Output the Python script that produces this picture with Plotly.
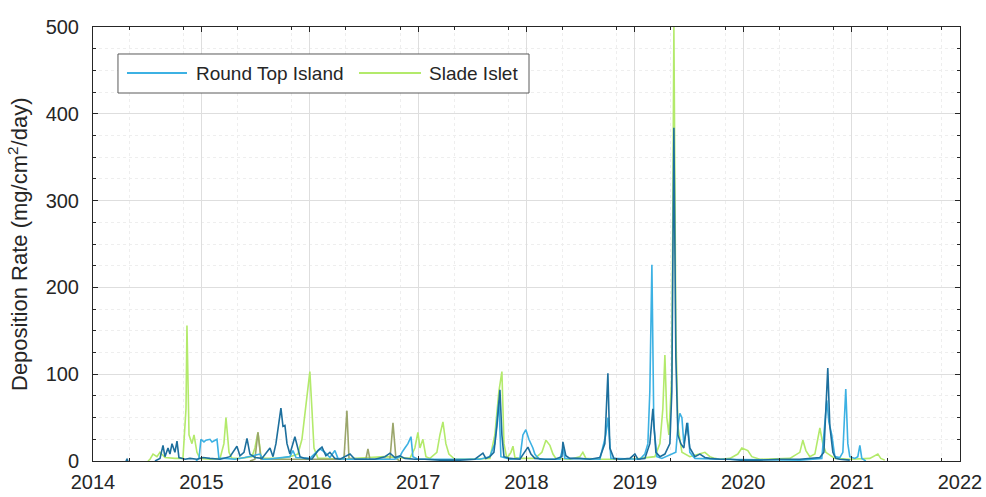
import plotly.graph_objects as go

# Sediment deposition rate (mg/cm2/day) against time in decimal years.
# Round Top Island: two overlapping trap records (darker / lighter blue)
rti_a_t = [2014.304, 2014.314, 2014.323, None, 2014.572, 2014.618, 2014.646, 2014.664, 2014.692, 2014.710,
           2014.729, 2014.756, 2014.775, 2014.793, 2014.849, 2014.895, 2014.959, 2015.015, 2015.079, 2015.172,
           2015.264, 2015.328, 2015.356, 2015.393, 2015.421, 2015.448, 2015.494, 2015.559, 2015.633, 2015.661,
           2015.688, 2015.716, 2015.734, 2015.753, 2015.771, 2015.790, 2015.817, 2015.863, 2015.891, 2015.910,
           2015.956, 2016.020, 2016.076, 2016.113, 2016.149, 2016.186, 2016.232, 2016.279, 2016.371, 2016.417,
           2016.509, 2016.601, 2016.694, 2016.740, 2016.786, 2016.832, 2016.878, 2016.970, 2017.063, 2017.201,
           2017.386, 2017.524, 2017.598, 2017.625, 2017.662, 2017.699, 2017.727, 2017.755, 2017.773, 2017.792,
           2017.847, 2017.939, 2018.013, 2018.041, 2018.077, 2018.170, 2018.262, 2018.327, 2018.336, 2018.363,
           2018.400, 2018.493, 2018.585, 2018.677, 2018.723, 2018.751, 2018.769, 2018.806, 2018.862, 2018.954,
           2019.000, 2019.028, 2019.092, 2019.138, 2019.166, 2019.194, 2019.231, 2019.277, 2019.323, 2019.341,
           2019.360, 2019.378, 2019.397, 2019.424, 2019.452, 2019.480, 2019.507, 2019.554, 2019.600, 2019.646,
           2019.692, 2019.784, 2019.877, 2019.969, 2020.153, 2020.338, 2020.522, 2020.614, 2020.707, 2020.744,
           2020.762, 2020.780, 2020.799, 2020.827, 2020.854, 2020.891, 2020.983]
rti_a_v = [0, 2, 0, None, 0, 3, 18, 5, 15, 8,
           20, 10, 23, 4, 2, 3, 2, 4, 3, 2,
           5, 17, 6, 10, 26, 8, 4, 3, 15, 5,
           20, 45, 61, 40, 41, 20, 8, 28, 12, 5,
           3, 2, 12, 16, 6, 10, 3, 2, 8, 2,
           2, 2, 5, 9, 4, 6, 3, 2, 2, 1,
           1, 2, 9, 3, 5, 10, 40, 82, 30, 5,
           3, 2, 16, 8, 3, 2, 2, 5, 22, 6,
           3, 3, 2, 4, 20, 101, 15, 3, 2, 3,
           8, 2, 3, 20, 60, 10, 5, 8, 20, 80,
           384, 120, 30, 20, 15, 44, 15, 5, 8, 4,
           3, 2, 2, 1, 1, 2, 2, 3, 4, 10,
           60, 107, 40, 10, 3, 2, 1]

rti_b_t = [2014.950, 2014.978, 2014.996, 2015.024, 2015.042, 2015.079, 2015.098, 2015.116, 2015.144, 2015.162,
           2015.218, 2015.310, 2015.402, 2015.541, 2015.568, 2015.614, 2015.817, 2015.845, 2015.873, 2016.001,
           2016.048, 2016.094, 2016.140, 2016.186, 2016.232, 2016.260, 2016.325, 2016.786, 2016.832, 2016.851,
           2016.878, 2016.906, 2016.934, 2016.952, 2016.998, 2017.570, 2017.662, 2017.708, 2017.745, 2017.764,
           2017.847, 2017.939, 2017.967, 2017.994, 2018.022, 2018.041, 2018.059, 2018.077, 2018.096, 2018.124,
           2018.308, 2018.336, 2018.354, 2018.677, 2018.732, 2018.751, 2018.779, 2019.046, 2019.092, 2019.120,
           2019.138, 2019.157, 2019.175, 2019.203, 2019.249, 2019.378, 2019.397, 2019.415, 2019.434, 2019.452,
           2019.470, 2019.489, 2019.507, 2019.554, 2019.784, 2020.522, 2020.725, 2020.753, 2020.771, 2020.790,
           2020.817, 2020.845, 2020.891, 2020.919, 2020.937, 2020.946, 2020.965, 2020.983, 2021.030, 2021.057,
           2021.076, 2021.094, 2021.131]
rti_b_v = [0, 3, 25, 22, 24, 25, 22, 23, 25, 3,
           3, 2, 4, 8, 2, 2, 5, 12, 4, 3,
           8, 14, 10, 4, 12, 3, 2, 2, 5, 10,
           15, 20, 28, 5, 2, 2, 5, 20, 70, 5,
           2, 3, 30, 36, 25, 20, 15, 8, 5, 2,
           2, 15, 3, 2, 30, 50, 3, 2, 8, 20,
           80, 226, 40, 5, 3, 10, 40, 55, 50, 20,
           30, 44, 10, 3, 2, 1, 3, 40, 70, 45,
           30, 5, 4, 10, 60, 83, 20, 5, 3, 5,
           18, 3, 0]

# Slade Islet: main record (lime) and a second short record (olive)
slade_a_t = [2014.507, 2014.526, 2014.554, 2014.590, 2014.618, 2014.664, 2014.756, 2014.830, 2014.858, 2014.867,
             2014.886, 2014.913, 2014.932, 2014.959, 2014.987, 2015.079, 2015.172, 2015.208, 2015.227, 2015.255,
             2015.282, 2015.356, 2015.467, 2015.494, 2015.522, 2015.550, 2015.587, 2015.725, 2015.817, 2015.891,
             2015.928, 2015.956, 2015.983, 2016.001, 2016.020, 2016.039, 2016.076, 2016.140, 2016.279, 2016.463,
             2016.555, 2016.694, 2016.924, 2016.970, 2016.998, 2017.017, 2017.044, 2017.072, 2017.109, 2017.173,
             2017.201, 2017.229, 2017.256, 2017.284, 2017.339, 2017.478, 2017.662, 2017.708, 2017.745, 2017.773,
             2017.792, 2017.819, 2017.856, 2017.875, 2017.893, 2017.939, 2018.077, 2018.142, 2018.179, 2018.216,
             2018.244, 2018.271, 2018.400, 2018.493, 2018.520, 2018.548, 2018.677, 2018.862, 2019.046, 2019.185,
             2019.231, 2019.258, 2019.277, 2019.295, 2019.314, 2019.341, 2019.360, 2019.378, 2019.397, 2019.434,
             2019.507, 2019.600, 2019.646, 2019.692, 2019.738, 2019.784, 2019.877, 2019.950, 2019.987, 2020.042,
             2020.079, 2020.153, 2020.430, 2020.522, 2020.550, 2020.578, 2020.614, 2020.661, 2020.707, 2020.734,
             2020.762, 2020.845, 2020.983, 2021.168, 2021.214, 2021.242, 2021.269, 2021.306]
slade_a_v = [0, 2, 8, 5, 10, 4, 3, 3, 60, 156,
             30, 20, 30, 10, 3, 2, 3, 20, 50, 10,
             3, 3, 5, 15, 33, 5, 3, 3, 5, 8,
             25, 55, 80, 103, 60, 15, 3, 3, 2, 3,
             4, 5, 3, 15, 33, 15, 25, 5, 3, 10,
             30, 45, 20, 8, 2, 2, 3, 30, 80, 103,
             20, 3, 10, 17, 4, 3, 3, 10, 24, 18,
             8, 3, 2, 5, 10, 3, 2, 2, 3, 5,
             20, 60, 122, 50, 30, 100, 500, 150, 40, 10,
             5, 8, 10, 5, 3, 2, 3, 8, 15, 12,
             5, 2, 3, 10, 24, 12, 5, 8, 38, 20,
             10, 3, 2, 3, 6, 8, 3, 1]

slade_b_t = [2015.448, 2015.494, 2015.522, 2015.550, 2016.315, 2016.343, 2016.362, 2016.518, 2016.537, 2016.555,
             2016.740, 2016.768, 2016.795, 2016.832]
slade_b_v = [0, 2, 33, 2, 2, 58, 3, 2, 14, 2,
             2, 44, 3, 0]

year_ticks = [2014, 2015, 2016, 2017, 2018, 2019, 2020, 2021, 2022]
year_labels = ["2014", "2015", "2016", "2017", "2018", "2019", "2020", "2021", "2022"]
rate_ticks = [0, 100, 200, 300, 400, 500]
series_names = ["Round Top Island", "Slade Islet"]

BLUE_DARK = "#1d6f9d"
BLUE_LIGHT = "#3cb1e3"
LIME = "#b3ea6b"
OLIVE = "#9ba66b"
AXIS = "#262626"
FONT = "Liberation Sans, Arial, Helvetica, sans-serif"

fig = go.Figure()
traces = [
    (slade_a_t, slade_a_v, LIME, series_names[1]),
    (slade_b_t, slade_b_v, OLIVE, series_names[1]),
    (rti_b_t, rti_b_v, BLUE_LIGHT, series_names[0]),
    (rti_a_t, rti_a_v, BLUE_DARK, series_names[0]),
]
for t, v, color, name in traces:
    fig.add_trace(go.Scatter(x=t, y=v, mode="lines", name=name, showlegend=False,
                             connectgaps=False, line=dict(color=color, width=1.6)))

# minor grid positions (twice a year)
minor_x = [y + off for y in range(2014, 2022) for off in (0.333, 0.833)]

fig.update_xaxes(
    range=[2014, 2022], tickmode="array", tickvals=year_ticks, ticktext=year_labels,
    ticks="inside", ticklen=5, tickcolor=AXIS, showline=True, linecolor=AXIS, linewidth=1,
    mirror="ticks", showgrid=True, gridcolor="#dedede", gridwidth=1, zeroline=False,
    tickfont=dict(family=FONT, size=20, color=AXIS), ticklabelstandoff=3, automargin=False,
    minor=dict(tickmode="array", tickvals=minor_x, ticks="inside", ticklen=3, tickcolor=AXIS,
               showgrid=True, gridcolor="#eeeeee", griddash="dot"),
)
fig.update_yaxes(
    range=[0, 500], tickmode="array", tickvals=rate_ticks,
    ticks="inside", ticklen=5, tickcolor=AXIS, showline=True, linecolor=AXIS, linewidth=1,
    mirror="ticks", showgrid=True, gridcolor="#dedede", gridwidth=1, zeroline=False,
    tickfont=dict(family=FONT, size=20, color=AXIS), ticklabelstandoff=9, automargin=False,
    minor=dict(dtick=25, tick0=0, ticks="inside", ticklen=3, tickcolor=AXIS,
               showgrid=True, gridcolor="#eeeeee", griddash="dot"),
)

# legend box drawn in paper coordinates (long line samples)
shapes = [
    dict(type="rect", xref="paper", yref="paper", x0=0.0288, x1=0.5029, y0=0.8479, y1=0.9378,
         line=dict(color="#5a5a5a", width=1), fillcolor="white", layer="above"),
    dict(type="line", xref="paper", yref="paper", x0=0.0392, x1=0.1084, y0=0.894, y1=0.894,
         line=dict(color=BLUE_LIGHT, width=2), layer="above"),
    dict(type="line", xref="paper", yref="paper", x0=0.3068, x1=0.3783, y0=0.894, y1=0.894,
         line=dict(color=LIME, width=2), layer="above"),
]
annotations = [
    dict(text=series_names[0], xref="paper", yref="paper", x=0.1165, y=0.894, xanchor="left",
         yanchor="middle", showarrow=False, font=dict(family=FONT, size=19, color=AXIS)),
    dict(text=series_names[1], xref="paper", yref="paper", x=0.3852, y=0.894, xanchor="left",
         yanchor="middle", showarrow=False, font=dict(family=FONT, size=19, color=AXIS)),
    dict(text="Deposition Rate (mg/cm<sup>2</sup>/day)", xref="paper", yref="paper",
         x=-0.0865, y=0.4977, xanchor="center", yanchor="middle", textangle=-90,
         showarrow=False, font=dict(family=FONT, size=22, color=AXIS)),
]

fig.update_layout(
    width=986, height=497, margin=dict(l=93, r=26, t=27, b=36),
    paper_bgcolor="white", plot_bgcolor="white", showlegend=False,
    shapes=shapes, annotations=annotations,
)

fig.write_html("out.html")
